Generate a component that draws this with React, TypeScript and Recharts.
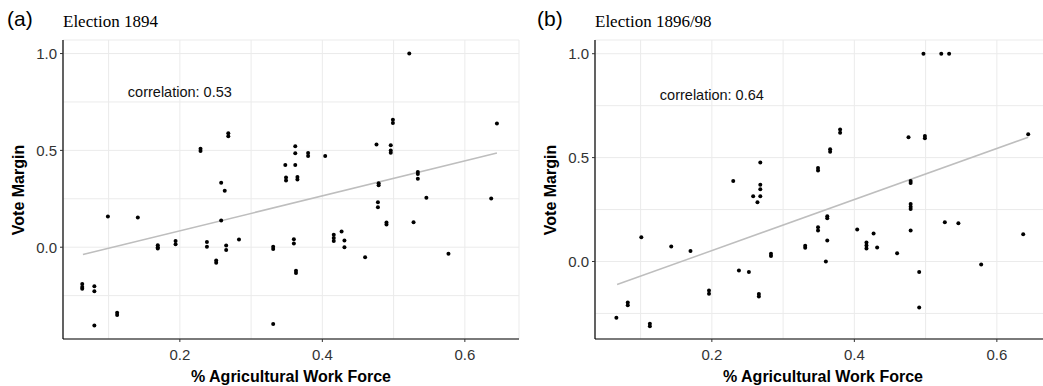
import React from 'react';
import { ScatterChart, Scatter, XAxis, YAxis, CartesianGrid } from 'recharts';

// Election 1894: x = % agricultural work force, y = vote margin
const points1894 = [
  { x: 0.063, y: -0.19 }, { x: 0.063, y: -0.205 }, { x: 0.063, y: -0.215 },
  { x: 0.08, y: -0.201 }, { x: 0.08, y: -0.227 }, { x: 0.08, y: -0.404 },
  { x: 0.099, y: 0.158 },
  { x: 0.112, y: -0.338 }, { x: 0.112, y: -0.35 },
  { x: 0.141, y: 0.153 },
  { x: 0.169, y: 0.01 }, { x: 0.169, y: 0.0 }, { x: 0.169, y: -0.007 },
  { x: 0.194, y: 0.032 }, { x: 0.194, y: 0.015 },
  { x: 0.229, y: 0.497 }, { x: 0.229, y: 0.509 },
  { x: 0.238, y: 0.027 }, { x: 0.238, y: 0.002 },
  { x: 0.251, y: -0.068 }, { x: 0.251, y: -0.08 },
  { x: 0.258, y: 0.333 }, { x: 0.263, y: 0.292 }, { x: 0.258, y: 0.138 },
  { x: 0.265, y: 0.009 }, { x: 0.265, y: -0.015 },
  { x: 0.268, y: 0.573 }, { x: 0.268, y: 0.589 },
  { x: 0.283, y: 0.04 },
  { x: 0.331, y: 0.003 }, { x: 0.331, y: -0.009 }, { x: 0.331, y: -0.397 },
  { x: 0.348, y: 0.424 }, { x: 0.349, y: 0.345 }, { x: 0.349, y: 0.36 },
  { x: 0.362, y: 0.521 }, { x: 0.362, y: 0.485 }, { x: 0.362, y: 0.424 },
  { x: 0.365, y: 0.35 }, { x: 0.365, y: 0.362 },
  { x: 0.38, y: 0.486 }, { x: 0.38, y: 0.471 },
  { x: 0.404, y: 0.471 },
  { x: 0.36, y: 0.041 }, { x: 0.36, y: 0.019 },
  { x: 0.363, y: -0.121 }, { x: 0.363, y: -0.133 },
  { x: 0.416, y: 0.064 }, { x: 0.416, y: 0.048 }, { x: 0.416, y: 0.032 },
  { x: 0.427, y: 0.081 },
  { x: 0.431, y: 0.034 }, { x: 0.431, y: 0.0 },
  { x: 0.46, y: -0.052 },
  { x: 0.476, y: 0.531 },
  { x: 0.479, y: 0.32 }, { x: 0.479, y: 0.33 },
  { x: 0.478, y: 0.232 }, { x: 0.478, y: 0.206 },
  { x: 0.49, y: 0.117 }, { x: 0.49, y: 0.127 },
  { x: 0.496, y: 0.526 }, { x: 0.496, y: 0.5 }, { x: 0.496, y: 0.488 },
  { x: 0.499, y: 0.658 }, { x: 0.499, y: 0.641 },
  { x: 0.522, y: 1.0 },
  { x: 0.528, y: 0.129 },
  { x: 0.534, y: 0.388 }, { x: 0.534, y: 0.378 }, { x: 0.534, y: 0.354 },
  { x: 0.546, y: 0.256 },
  { x: 0.577, y: -0.034 },
  { x: 0.637, y: 0.251 },
  { x: 0.645, y: 0.639 },
];

// Election 1896/98
const points1896 = [
  { x: 0.066, y: -0.271 },
  { x: 0.082, y: -0.197 }, { x: 0.082, y: -0.211 },
  { x: 0.113, y: -0.3 }, { x: 0.113, y: -0.312 },
  { x: 0.101, y: 0.117 },
  { x: 0.143, y: 0.072 },
  { x: 0.17, y: 0.051 },
  { x: 0.196, y: -0.139 }, { x: 0.196, y: -0.155 },
  { x: 0.23, y: 0.388 },
  { x: 0.238, y: -0.043 },
  { x: 0.252, y: -0.051 },
  { x: 0.258, y: 0.314 },
  { x: 0.264, y: 0.285 },
  { x: 0.266, y: -0.156 }, { x: 0.266, y: -0.168 },
  { x: 0.268, y: 0.476 },
  { x: 0.268, y: 0.369 }, { x: 0.268, y: 0.348 }, { x: 0.268, y: 0.314 },
  { x: 0.283, y: 0.027 }, { x: 0.283, y: 0.037 },
  { x: 0.331, y: 0.066 }, { x: 0.331, y: 0.076 },
  { x: 0.349, y: 0.165 }, { x: 0.349, y: 0.149 },
  { x: 0.349, y: 0.438 }, { x: 0.349, y: 0.45 },
  { x: 0.362, y: 0.208 }, { x: 0.362, y: 0.218 },
  { x: 0.362, y: 0.101 },
  { x: 0.36, y: 0.0 },
  { x: 0.366, y: 0.528 }, { x: 0.366, y: 0.54 },
  { x: 0.38, y: 0.635 }, { x: 0.38, y: 0.62 },
  { x: 0.404, y: 0.154 },
  { x: 0.417, y: 0.091 }, { x: 0.417, y: 0.077 }, { x: 0.417, y: 0.063 },
  { x: 0.427, y: 0.135 },
  { x: 0.432, y: 0.067 },
  { x: 0.46, y: 0.04 },
  { x: 0.476, y: 0.598 },
  { x: 0.479, y: 0.388 }, { x: 0.479, y: 0.378 },
  { x: 0.479, y: 0.277 }, { x: 0.479, y: 0.264 }, { x: 0.479, y: 0.253 },
  { x: 0.479, y: 0.149 },
  { x: 0.491, y: -0.051 },
  { x: 0.491, y: -0.221 },
  { x: 0.497, y: 1.0 },
  { x: 0.499, y: 0.604 }, { x: 0.499, y: 0.593 },
  { x: 0.522, y: 1.0 },
  { x: 0.533, y: 1.0 },
  { x: 0.527, y: 0.189 },
  { x: 0.546, y: 0.184 },
  { x: 0.578, y: -0.014 },
  { x: 0.637, y: 0.131 },
  { x: 0.644, y: 0.612 },
];

// fitted lines (end points)
const fit1894 = [{ x: 0.064, y: -0.038 }, { x: 0.645, y: 0.486 }];
const fit1896 = [{ x: 0.067, y: -0.111 }, { x: 0.644, y: 0.598 }];

const note1894 = [{ x: 0.2, y: 0.8, text: 'correlation: 0.53' }];
const note1896 = [{ x: 0.2, y: 0.8, text: 'correlation: 0.64' }];

const xTicks = [0.1, 0.2, 0.3, 0.4, 0.5, 0.6];
const xLabels = [0.2, 0.4, 0.6];
const yTicks = [-0.25, 0, 0.25, 0.5, 0.75, 1.0];
const yLabels = [0, 0.5, 1.0];

const SANS = '"Liberation Sans", Arial, Helvetica, sans-serif';
const SERIF = '"Liberation Serif", "Times New Roman", serif';

const XTick = (props: any) => {
  const { x, y, payload } = props;
  if (!xLabels.some((v) => Math.abs(v - payload.value) < 1e-9)) return null;
  return (
    <g>
      <line x1={x} x2={x} y1={y} y2={y + 3} stroke="#333" />
      <text x={x} y={y + 21} textAnchor="middle" fontSize={15} fontFamily={SANS} fill="#333">
        {payload.value.toFixed(1)}
      </text>
    </g>
  );
};

const YTick = (props: any) => {
  const { x, y, payload } = props;
  if (!yLabels.some((v) => Math.abs(v - payload.value) < 1e-9)) return null;
  return (
    <g>
      <line x1={x - 3} x2={x} y1={y} y2={y} stroke="#333" />
      <text x={x - 6} y={y} textAnchor="end" dominantBaseline="central" fontSize={15} fontFamily={SANS} fill="#333">
        {payload.value.toFixed(1)}
      </text>
    </g>
  );
};

const Dot = (p: any) => <circle cx={p.cx} cy={p.cy} r={2} fill="#000" />;

const Note = (p: any) => (
  <text x={p.cx} y={p.cy} textAnchor="middle" dominantBaseline="central" fontSize={14.5} fontFamily={SANS} fill="#111">
    {p.payload.text}
  </text>
);

const Panel = ({ points, fit, note, yDomain, width, right }: any) => (
  <ScatterChart width={width} height={386} margin={{ top: 40, right, bottom: 0, left: 0 }}>
    <CartesianGrid stroke="#ebebeb" strokeWidth={1} />
    <XAxis
      type="number"
      dataKey="x"
      domain={[0.036, 0.676]}
      ticks={xTicks}
      allowDataOverflow
      height={47}
      tickSize={0}
      tickMargin={0}
      tick={<XTick />}
      axisLine={{ stroke: '#000', strokeWidth: 1.2 }}
      tickLine={false}
    />
    <YAxis
      type="number"
      dataKey="y"
      domain={yDomain}
      ticks={yTicks}
      allowDataOverflow
      width={63}
      tickSize={0}
      tickMargin={0}
      tick={<YTick />}
      axisLine={{ stroke: '#000', strokeWidth: 1.2 }}
      tickLine={false}
    />
    <Scatter
      data={fit}
      line={{ stroke: '#bebebe', strokeWidth: 1.5 }}
      shape={() => <g />}
      isAnimationActive={false}
    />
    <Scatter data={points} shape={<Dot />} isAnimationActive={false} />
    <Scatter data={note} shape={<Note />} isAnimationActive={false} />
  </ScatterChart>
);

export default function App() {
  return (
    <div style={{ position: 'absolute', left: 0, top: 0, width: 1043, height: 386, overflow: 'hidden', background: '#fff' }}>
      <div style={{ position: 'absolute', left: 0, top: 0 }}>
        <Panel points={points1894} fit={fit1894} note={note1894} yDomain={[-0.474, 1.07]} width={525} right={6} />
      </div>
      <div style={{ position: 'absolute', left: 532, top: 0 }}>
        <Panel points={points1896} fit={fit1896} note={note1896} yDomain={[-0.373, 1.066]} width={520} right={1} />
      </div>
      <svg width={1043} height={386} style={{ position: 'absolute', left: 0, top: 0, pointerEvents: 'none' }}>
        <text x={7} y={26} fontSize={21} fontFamily={SANS} fill="#000">(a)</text>
        <text x={63} y={27} fontSize={17} fontFamily={SERIF} fill="#000">Election 1894</text>
        <text x={537} y={26} fontSize={21} fontFamily={SANS} fill="#000">(b)</text>
        <text x={595} y={27} fontSize={17} fontFamily={SERIF} fill="#000">Election 1896/98</text>
        <text transform="translate(18,190) rotate(-90)" textAnchor="middle" dominantBaseline="central" fontSize={16} fontWeight="bold" fontFamily={SANS} fill="#000">Vote Margin</text>
        <text transform="translate(550,190) rotate(-90)" textAnchor="middle" dominantBaseline="central" fontSize={16} fontWeight="bold" fontFamily={SANS} fill="#000">Vote Margin</text>
        <text x={291} y={382} textAnchor="middle" fontSize={16} fontWeight="bold" fontFamily={SANS} fill="#000">% Agricultural Work Force</text>
        <text x={823} y={382} textAnchor="middle" fontSize={16} fontWeight="bold" fontFamily={SANS} fill="#000">% Agricultural Work Force</text>
      </svg>
    </div>
  );
}
